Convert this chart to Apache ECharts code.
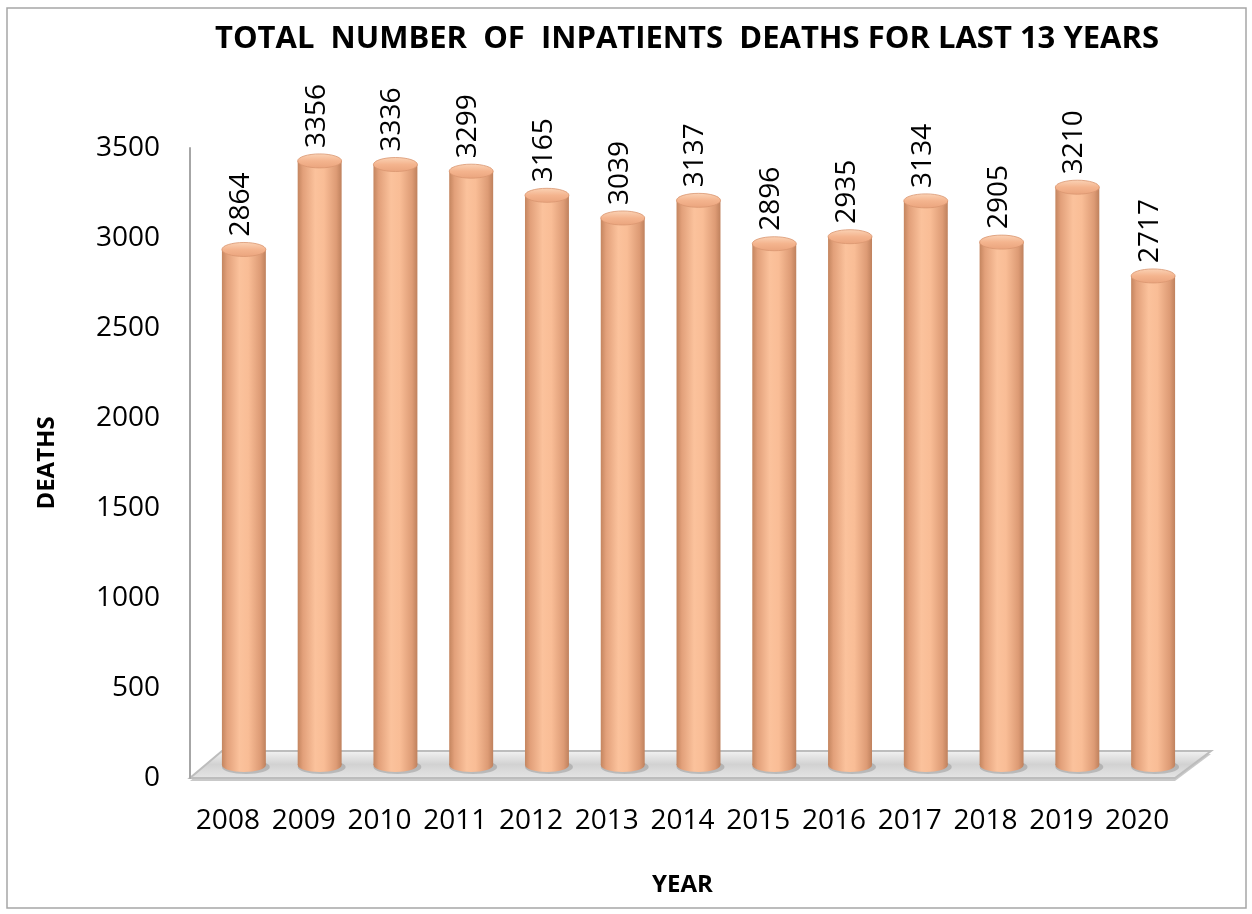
<!DOCTYPE html>
<html><head><meta charset="utf-8">
<script src="https://cdn.jsdelivr.net/npm/echarts@6/dist/echarts.min.js"></script>
<style>html,body{margin:0;padding:0;background:#fff}#c{width:1252px;height:914px}</style>
</head><body><div id="c"></div>
<script>
const years = ['2008','2009','2010','2011','2012','2013','2014','2015','2016','2017','2018','2019','2020'];
const deaths = [2864,3356,3336,3299,3165,3039,3137,2896,2935,3134,2905,3210,2717];
const yTicks = {min:0, max:3500, interval:500};
const titleText = 'TOTAL  NUMBER  OF  INPATIENTS  DEATHS FOR LAST 13 YEARS';

const GL=190, GR=77, GT=148, GB=136, W=1252, H=914;
const DX=16, DY=-13, RY=7;
const FONT='"Open Sans", sans-serif';

const bodyGrad = {type:'linear',x:0,y:0,x2:1,y2:0,colorStops:[
  {offset:0,color:'#c4855f'},{offset:0.12,color:'#e2a07a'},{offset:0.4,color:'#fbc29c'},
  {offset:0.6,color:'#f9bd96'},{offset:0.88,color:'#dd9b75'},{offset:1,color:'#bf815d'}]};
const topGrad = {type:'linear',x:0,y:0,x2:0,y2:1,colorStops:[
  {offset:0,color:'#fbd3b6'},{offset:0.5,color:'#f4b48e'},{offset:1,color:'#eaa47d'}]};

const chart = echarts.init(document.getElementById('c'));
const fx0=GL, fx1=W-GR, fy=H-GB;
chart.setOption({
  animation:false,
  backgroundColor:'#fff',
  title:{text:titleText,left:682,top:19,textAlign:'center',
    textStyle:{fontFamily:FONT,fontWeight:'bold',fontSize:31,color:'#000'}},
  grid:{left:GL,right:GR,top:GT,bottom:GB},
  xAxis:{type:'category',data:years,name:'YEAR',nameLocation:'middle',nameGap:95,
    nameTextStyle:{fontFamily:FONT,fontWeight:'bold',fontSize:24,color:'#000'},
    axisLine:{show:false},axisTick:{show:false},
    axisLabel:{interval:0,fontFamily:FONT,fontSize:28,color:'#000',margin:29}},
  yAxis:{type:'value',min:yTicks.min,max:yTicks.max,interval:yTicks.interval,
    name:'DEATHS',nameLocation:'middle',nameGap:131,nameRotate:90,
    nameTextStyle:{fontFamily:FONT,fontWeight:'bold',fontSize:24,color:'#000'},
    splitLine:{show:false},axisTick:{show:false},
    axisLine:{show:true,lineStyle:{color:'#a6a6a6',width:2}},
    axisLabel:{formatter:v=>String(v),fontFamily:FONT,fontSize:28,color:'#000',margin:30}},
  graphic:[
    {type:'rect',shape:{x:7,y:8,width:1239,height:900},style:{fill:'none',stroke:'#a6a6a6',lineWidth:1.5},z:-10},
    {type:'polygon',z:-5,shape:{points:[[fx0,fy+3],[fx1,fy+3],[fx1+36,fy-24],[fx0+32,fy-24]]},
      style:{fill:'#c9c9c9',stroke:'none'}},
    {type:'polygon',z:-4,shape:{points:[[fx0,fy],[fx1,fy],[fx1+36,fy-27],[fx0+32,fy-27]]},
      style:{fill:{type:'linear',x:0,y:0,x2:0,y2:1,colorStops:[{offset:0,color:'#f4f4f4'},{offset:0.5,color:'#d2d2d2'},{offset:1,color:'#e6e6e6'}]},
      stroke:'#bdbdbd',lineWidth:2}}
  ],
  series:[{
    type:'custom',
    data:deaths.map((v,i)=>[i,v]),
    encode:{x:0,y:1},
    renderItem:function(params,api){
      const i=api.value(0), v=api.value(1);
      const top=api.coord([i,v]), base=api.coord([i,0]);
      const w=api.size([1,0])[0]*0.58, hw=w/2;
      const cx=top[0]+DX, ty=top[1]+DY, by=base[1]+DY;
      return {type:'group',children:[
        {type:'ellipse',shape:{cx:cx+2,cy:by+2,rx:hw+2,ry:RY},style:{fill:'rgba(120,120,120,0.35)'}},
        {type:'ellipse',shape:{cx:cx,cy:by,rx:hw,ry:RY},style:{fill:bodyGrad}},
        {type:'rect',shape:{x:cx-hw,y:ty,width:w,height:by-ty},style:{fill:bodyGrad}},
        {type:'ellipse',shape:{cx:cx,cy:ty,rx:hw,ry:RY},style:{fill:topGrad,stroke:'#d99670',lineWidth:0.8}},
        {type:'text',x:cx-3,y:ty-RY-6,rotation:Math.PI/2,
          style:{text:String(v),fontFamily:FONT,fontSize:28,fill:'#000',align:'left',verticalAlign:'middle'}}
      ]};
    }
  }]
});
</script></body></html>
